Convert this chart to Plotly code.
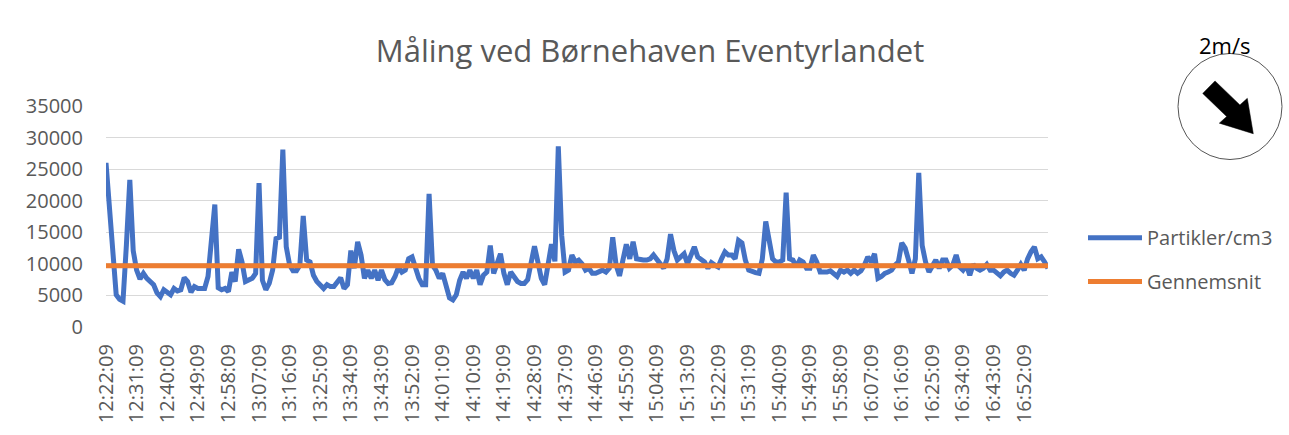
import plotly.graph_objects as go
from datetime import datetime, timedelta

# ---------------- data ----------------
start_time = "12:22:09"
particles = [
    26000, 18500, 11100, 5100, 4400, 4100, 13000, 23300, 12100, 9000,
    7600, 8500, 7700, 7200, 6700, 5400, 4800, 5900, 5500, 5100,
    6100, 5700, 5900, 7800, 7200, 5500, 6400, 6100, 6100, 6100,
    8000, 13000, 19400, 6200, 5900, 6100, 5600, 8700, 7200, 12300,
    10300, 7200, 7500, 7700, 8500, 22800, 7400, 5900, 6900, 9000,
    14000, 14200, 28100, 12700, 9800, 8900, 8900, 9800, 17600, 10600,
    10300, 8200, 7200, 6700, 6100, 6700, 6400, 6400, 7200, 7800,
    6100, 6700, 12100, 9300, 13500, 11400, 7700, 9000, 7700, 9000,
    7400, 9000, 7500, 6900, 7000, 8000, 9500, 8700, 9000, 10800,
    11100, 9000, 7700, 6700, 6700, 21100, 9800, 9000, 7700, 8500,
    6400, 4600, 4300, 5100, 7400, 8700, 7700, 9000, 7700, 9000,
    6700, 8200, 8700, 12900, 8500, 9800, 11600, 8500, 6700, 8700,
    8000, 7200, 6900, 6900, 7500, 9800, 12800, 10300, 7700, 6700,
    9800, 13100, 10400, 28600, 14500, 8700, 9000, 11400, 10300, 10600,
    10000, 9000, 9300, 8500, 8500, 8700, 9000, 8700, 9300, 14200,
    9800, 8100, 10600, 13100, 10800, 13500, 10800, 10600, 10600, 10600,
    10800, 11400, 10800, 10000, 9300, 10800, 14700, 12100, 10600, 11100,
    11600, 10000, 11400, 12700, 11100, 10600, 10300, 9300, 10200, 9800,
    9500, 10800, 11900, 11400, 11400, 10800, 13700, 13300, 10600, 9000,
    8700, 8600, 8500, 10800, 16700, 13400, 10800, 10300, 10300, 10600,
    21300, 10800, 10600, 9500, 10600, 10300, 9300, 9300, 11400, 10300,
    8700, 8700, 8700, 8900, 8500, 8000, 9000, 8700, 9000, 8500,
    9000, 8500, 8900, 9800, 11100, 10300, 11600, 7700, 8000, 8500,
    8700, 9000, 9800, 10300, 13300, 12500, 10600, 8500, 10800, 24400,
    12900, 10300, 8700, 9800, 10600, 9300, 10600, 10600, 9300, 9800,
    11400, 9500, 9000, 9800, 8200, 9900, 9300, 9000, 9300, 9900,
    9000, 9000, 8500, 8100, 8700, 9000, 8500, 8200, 9000, 9900,
    9000, 10800, 11900, 12700, 10800, 11100, 10300, 9300,
]
gennemsnit = 9700

tick_labels = [
    "12:22:09", "12:31:09", "12:40:09", "12:49:09", "12:58:09", "13:07:09",
    "13:16:09", "13:25:09", "13:34:09", "13:43:09", "13:52:09", "14:01:09",
    "14:10:09", "14:19:09", "14:28:09", "14:37:09", "14:46:09", "14:55:09",
    "15:04:09", "15:13:09", "15:22:09", "15:31:09", "15:40:09", "15:49:09",
    "15:58:09", "16:07:09", "16:16:09", "16:25:09", "16:34:09", "16:43:09",
    "16:52:09",
]
y_ticks = [0, 5000, 10000, 15000, 20000, 25000, 30000, 35000]
y_tick_text = ["0", "5000", "10000", "15000", "20000", "25000", "30000", "35000"]

series_names = ["Partikler/cm3", "Gennemsnit"]
series_colors = ["#4472C4", "#ED7D31"]
title_text = "Måling ved Børnehaven Eventyrlandet"
wind_text = "2m/s"

# one reading per minute
t0 = datetime.strptime(start_time, "%H:%M:%S")
times = [(t0 + timedelta(minutes=i)).strftime("%H:%M:%S") for i in range(len(particles))]

# ---------------- layout helpers ----------------
W, H = 1289, 435
L, R, T, B = 106, 241, 106, 106
PW, PH = W - L - R, H - T - B


def px(x):
    return (x - L) / PW


def py(y):
    return (H - B - y) / PH


GRAY = "#595959"
FONT = "Open Sans"

fig = go.Figure()
fig.add_trace(go.Scatter(
    x=times, y=particles, mode="lines", name=series_names[0],
    line=dict(color=series_colors[0], width=5), showlegend=False,
))
fig.add_trace(go.Scatter(
    x=times, y=[gennemsnit] * len(times), mode="lines", name=series_names[1],
    line=dict(color=series_colors[1], width=5), showlegend=False,
))

shapes = []
annotations = []

# custom legend
legend_y = [239, 283]
for name, col, ly in zip(series_names, series_colors, legend_y):
    shapes.append(dict(type="line", xref="paper", yref="paper",
                       x0=px(1088), x1=px(1142), y0=py(ly), y1=py(ly),
                       line=dict(color=col, width=5)))
    annotations.append(dict(text=name, xref="paper", yref="paper",
                            x=px(1145), y=py(ly), xanchor="left", yanchor="middle",
                            showarrow=False, font=dict(size=20, color=GRAY, family=FONT)))

# wind indicator: circle + arrow + text
shapes.append(dict(type="circle", xref="paper", yref="paper",
                   x0=px(1178), x1=px(1282), y0=py(160), y1=py(53),
                   line=dict(color="#555555", width=1)))
arrow_pts = [(1215, 80.7), (1239.9, 104.9), (1247.3, 98.3), (1253.3, 134),
             (1219.3, 123.3), (1226.7, 116.7), (1202.7, 93.3)]
path = "M " + " L ".join(f"{px(x):.5f},{py(y):.5f}" for x, y in arrow_pts) + " Z"
shapes.append(dict(type="path", xref="paper", yref="paper", path=path,
                   fillcolor="black", line=dict(color="black", width=0.5)))
annotations.append(dict(text=wind_text, xref="paper", yref="paper",
                        x=px(1225), y=py(44), xanchor="center", yanchor="middle",
                        showarrow=False, font=dict(size=22, color="black", family=FONT)))

fig.update_layout(
    width=W, height=H,
    margin=dict(l=L, r=R, t=T, b=B, pad=0),
    paper_bgcolor="white", plot_bgcolor="white",
    font=dict(family=FONT, color=GRAY),
    title=dict(text=title_text, x=650 / W, xref="container", xanchor="center",
               y=1 - 51 / H, yref="container", yanchor="middle",
               font=dict(size=31, color=GRAY, family=FONT)),
    shapes=shapes, annotations=annotations,
    showlegend=False,
)
fig.update_xaxes(
    type="category", range=[0, len(times) - 1],
    tickmode="array", tickvals=tick_labels, ticktext=tick_labels,
    tickangle=-90, tickfont=dict(size=20, color=GRAY, family=FONT),
    showgrid=False, zeroline=False, showline=False, ticks="",
    ticklabelstandoff=12,
)
fig.update_yaxes(
    range=[0, 35000], tickmode="array", tickvals=y_ticks, ticktext=y_tick_text,
    tickfont=dict(size=20, color=GRAY, family=FONT),
    showgrid=True, gridcolor="#D9D9D9", gridwidth=1.3,
    zeroline=False, showline=False, ticks="", ticklabelstandoff=22,
)

fig.write_html(
    "out.html",
    config={"displayModeBar": False},
    post_script="document.body.style.margin='0';document.body.style.overflow='hidden';",
)
